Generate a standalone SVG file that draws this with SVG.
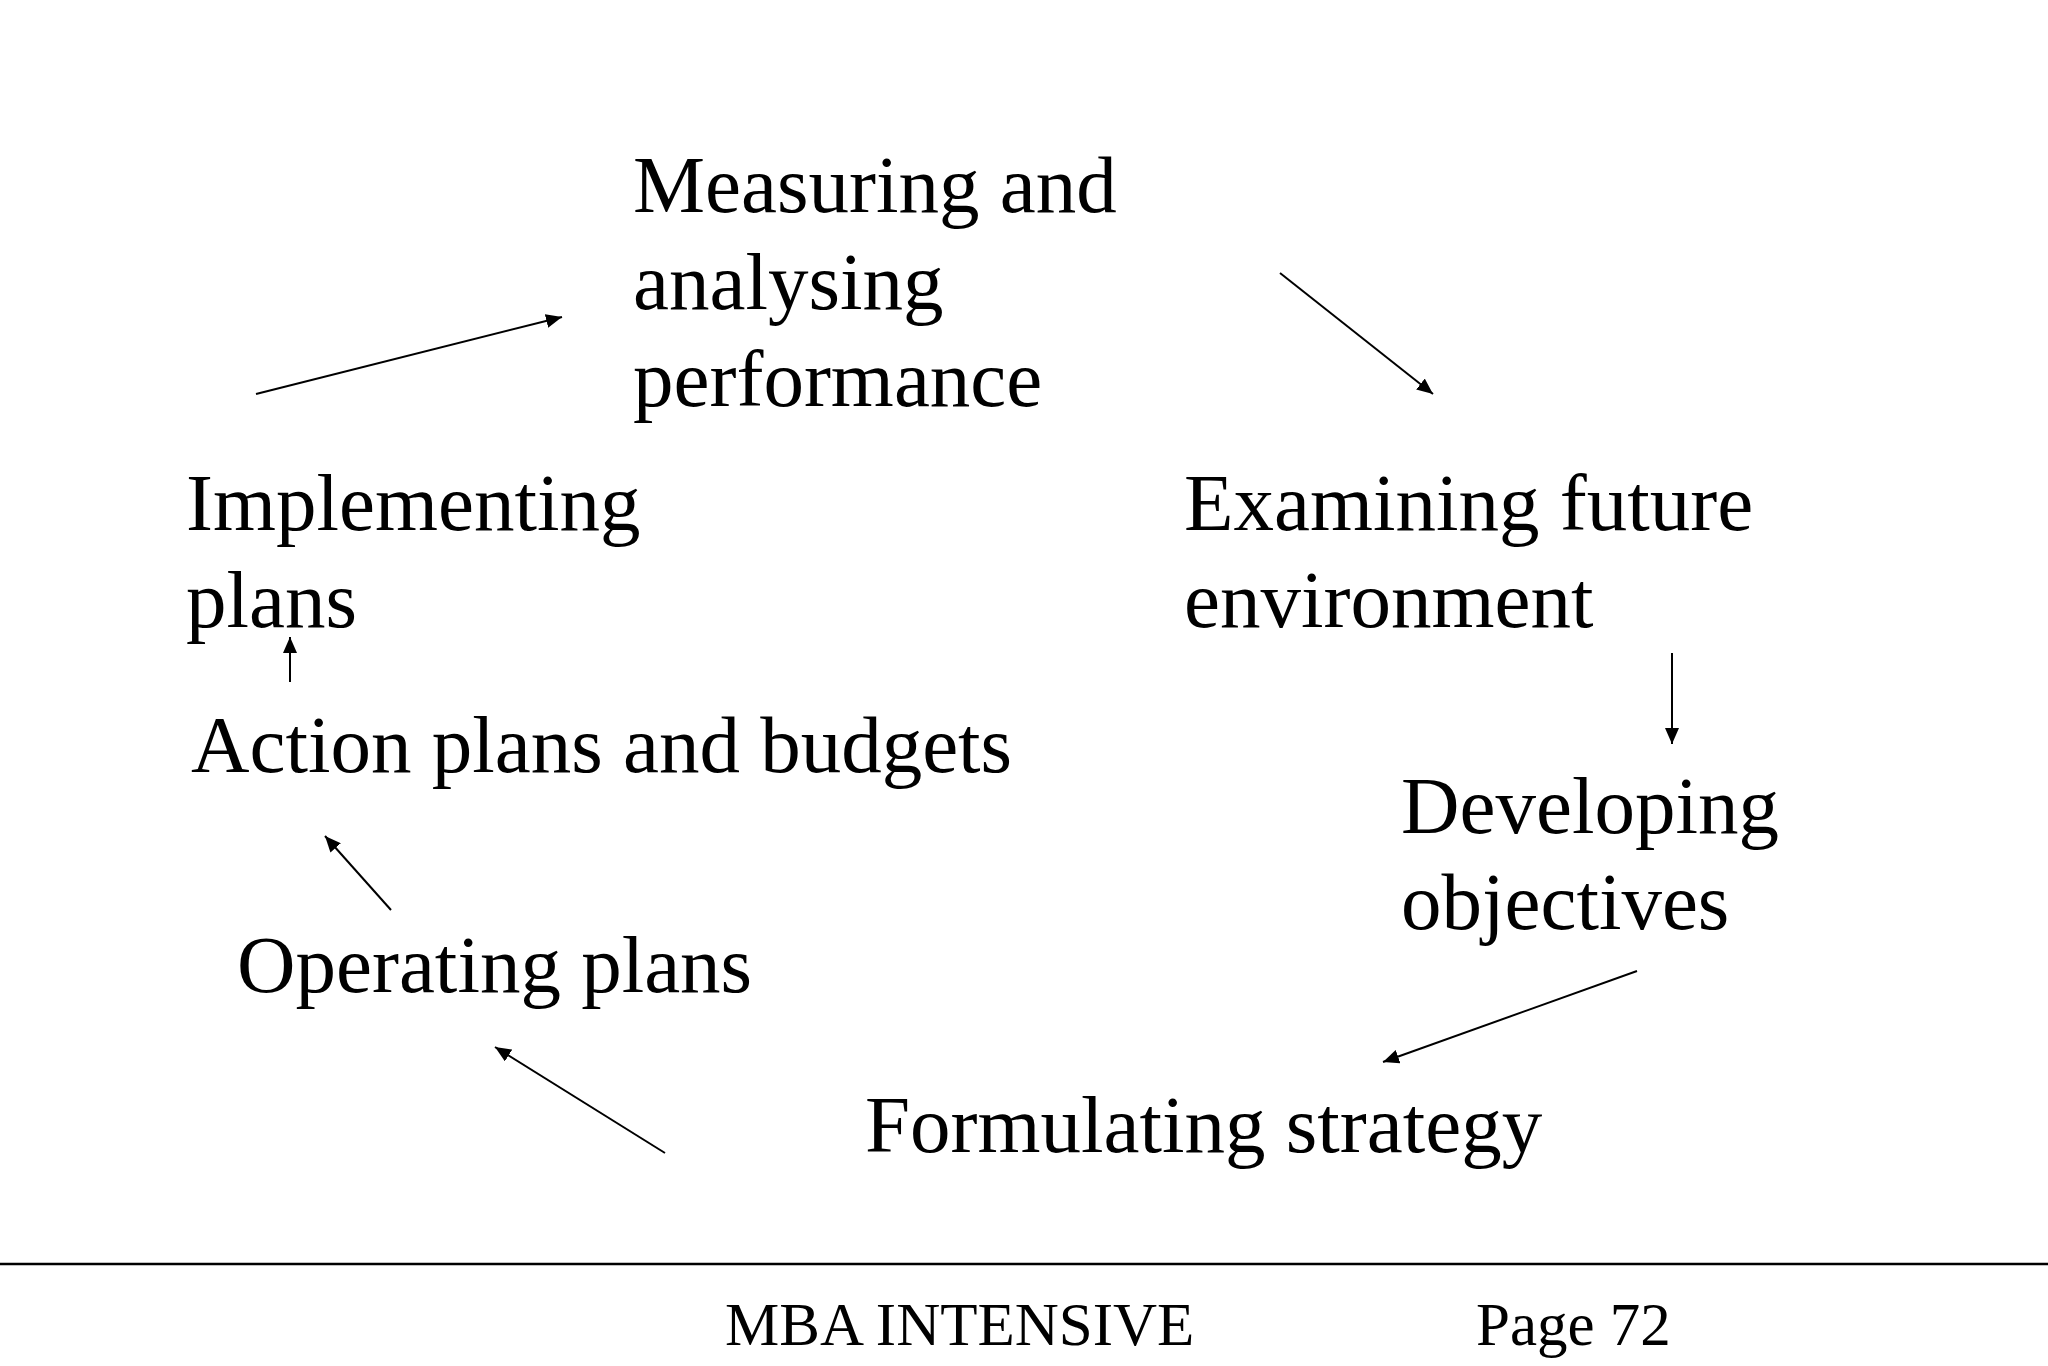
<svg xmlns="http://www.w3.org/2000/svg" width="2048" height="1366" viewBox="0 0 2048 1366">
<style>
.t{font-family:"Liberation Serif","Times New Roman",serif;font-size:81px;fill:#000}
.f{font-family:"Liberation Serif","Times New Roman",serif;font-size:61px;fill:#000}
.c{stroke:#000;stroke-width:2;fill:none;marker-end:url(#ah)}
</style>
<defs>
<marker id="ah" markerUnits="userSpaceOnUse" markerWidth="18" markerHeight="14" refX="16" refY="7" orient="auto">
<path d="M0,0 L16,7 L0,14 Z" fill="#000"/>
</marker>
</defs>
<rect width="2048" height="1366" fill="#fff"/>
<g id="measuring"><text class="t" x="633" y="212">Measuring and</text><text class="t" x="633" y="309">analysing</text><text class="t" x="633" y="406">performance</text></g>
<g id="examining"><text class="t" x="1184" y="530">Examining future</text><text class="t" x="1184" y="627">environment</text></g>
<g id="developing"><text class="t" x="1401" y="833">Developing</text><text class="t" x="1401" y="929">objectives</text></g>
<g id="formulating"><text class="t" x="865" y="1152">Formulating strategy</text></g>
<g id="operating"><text class="t" x="237" y="992">Operating plans</text></g>
<g id="action"><text class="t" x="191" y="772">Action plans and budgets</text></g>
<g id="implementing"><text class="t" x="186" y="530">Implementing</text><text class="t" x="186" y="627">plans</text></g>
<g id="connectors">
<line class="c" x1="256" y1="394" x2="562" y2="317"/>
<line class="c" x1="1280" y1="273" x2="1433" y2="394"/>
<line class="c" x1="1672" y1="653" x2="1672" y2="744"/>
<line class="c" x1="1637" y1="971" x2="1383" y2="1062"/>
<line class="c" x1="665" y1="1153" x2="495" y2="1047"/>
<line class="c" x1="391" y1="910" x2="325" y2="836"/>
<line class="c" x1="290" y1="682" x2="290" y2="637"/>
</g>
<g id="footer">
<line x1="0" y1="1264" x2="2048" y2="1264" stroke="#000" stroke-width="2.5"/>
<text class="f" x="725" y="1345">MBA INTENSIVE</text>
<text class="f" x="1476" y="1345">Page 72</text>
</g>
</svg>
